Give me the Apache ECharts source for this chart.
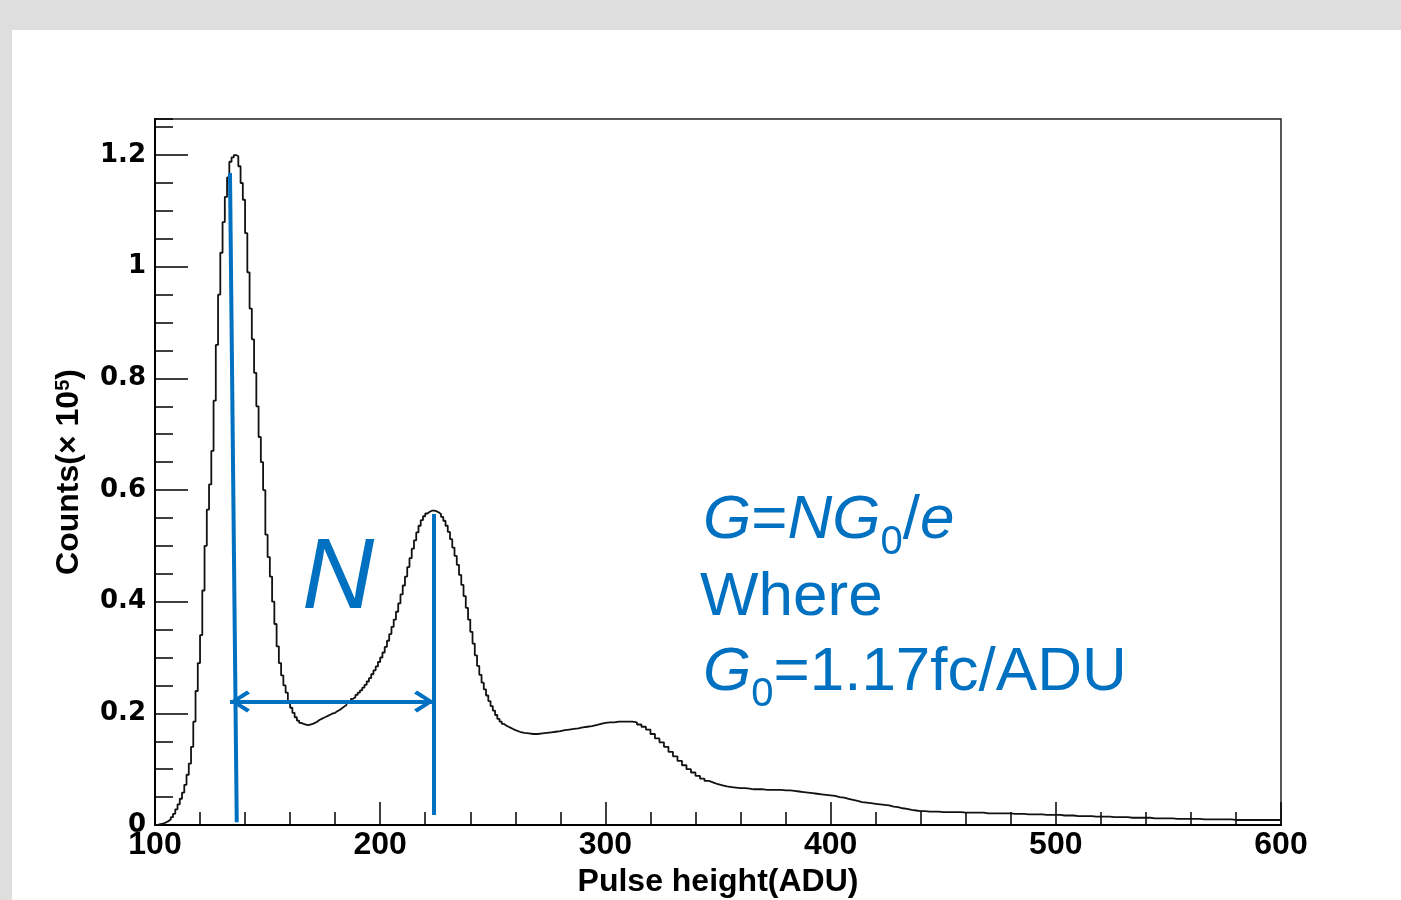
<!DOCTYPE html>
<html>
<head>
<meta charset="utf-8">
<script src="https://cdn.jsdelivr.net/npm/echarts@6.0.0/dist/echarts.min.js"></script>
<style>
  html, body { margin: 0; padding: 0; background: #dedede; }
  #chart { position: absolute; left: 12px; top: 30px; width: 1389px; height: 870px; background: #fff; }
</style>
</head>
<body>
<div id="chart"></div>
<script>
// counts in units of 1e5
// peaks region: 1 ADU bins from 100 to 260
const fineStart = 100;
const fineWidth = 1;
const countsFine = [
  0.000, 0.001, 0.002, 0.003, 0.005, 0.007, 0.010, 0.014, 0.020, 0.028,
  0.037, 0.047, 0.058, 0.072, 0.090, 0.110, 0.140, 0.185, 0.240, 0.290,
  0.340, 0.420, 0.500, 0.565, 0.610, 0.670, 0.760, 0.860, 0.950, 1.025,
  1.080, 1.125, 1.160, 1.188, 1.196, 1.200, 1.198, 1.180, 1.150, 1.120,
  1.060, 0.990, 0.925, 0.870, 0.810, 0.750, 0.695, 0.650, 0.600, 0.520,
  0.480, 0.445, 0.400, 0.360, 0.320, 0.290, 0.268, 0.250, 0.237, 0.222,
  0.210, 0.201, 0.193, 0.187, 0.183, 0.181, 0.180, 0.179, 0.180, 0.181,
  0.183, 0.185, 0.188, 0.190, 0.192, 0.194, 0.196, 0.198, 0.200, 0.201,
  0.204, 0.206, 0.209, 0.212, 0.215, 0.219, 0.222, 0.226, 0.229, 0.233,
  0.237, 0.241, 0.246, 0.251, 0.257, 0.263, 0.270, 0.277, 0.284, 0.292,
  0.300, 0.309, 0.319, 0.330, 0.342, 0.355, 0.368, 0.382, 0.397, 0.413,
  0.429, 0.445, 0.462, 0.478, 0.495, 0.510, 0.524, 0.536, 0.546, 0.553,
  0.558, 0.561, 0.563, 0.563, 0.562, 0.560, 0.557, 0.552, 0.545, 0.536,
  0.525, 0.512, 0.497, 0.482, 0.466, 0.448, 0.430, 0.410, 0.389, 0.368,
  0.346, 0.325, 0.304, 0.285, 0.269, 0.255, 0.243, 0.232, 0.222, 0.213,
  0.205, 0.197, 0.190, 0.185, 0.181, 0.178, 0.176, 0.174, 0.172, 0.170
];
// tail region: 2 ADU bins from 260 to 600
const coarseStart = 260;
const coarseWidth = 2;
const countsCoarse = [
  0.167, 0.165, 0.164, 0.163, 0.163, 0.164, 0.165, 0.166, 0.167, 0.168,
  0.170, 0.171, 0.172, 0.173, 0.175, 0.176, 0.177, 0.179, 0.181, 0.183,
  0.184, 0.184, 0.185, 0.185, 0.185, 0.185, 0.184, 0.180, 0.176, 0.171,
  0.163, 0.155, 0.148, 0.140, 0.131, 0.123, 0.115, 0.107, 0.100, 0.094,
  0.088, 0.083, 0.079, 0.076, 0.073, 0.071, 0.069, 0.068, 0.067, 0.066,
  0.066, 0.065, 0.064, 0.064, 0.064, 0.063, 0.063, 0.063, 0.063, 0.062,
  0.062, 0.061, 0.060, 0.059, 0.058, 0.057, 0.056, 0.055, 0.054, 0.053,
  0.052, 0.050, 0.049, 0.047, 0.045, 0.043, 0.041, 0.040, 0.039, 0.038,
  0.037, 0.036, 0.035, 0.033, 0.032, 0.030, 0.029, 0.027, 0.026, 0.025,
  0.025, 0.024, 0.024, 0.024, 0.023, 0.023, 0.023, 0.023, 0.023, 0.022,
  0.022, 0.022, 0.022, 0.022, 0.021, 0.021, 0.021, 0.021, 0.021, 0.021,
  0.020, 0.020, 0.020, 0.019, 0.019, 0.019, 0.019, 0.018, 0.018, 0.018,
  0.018, 0.017, 0.017, 0.017, 0.016, 0.016, 0.016, 0.016, 0.015, 0.015,
  0.015, 0.015, 0.014, 0.014, 0.014, 0.014, 0.013, 0.013, 0.013, 0.013,
  0.013, 0.012, 0.012, 0.012, 0.012, 0.012, 0.011, 0.011, 0.011, 0.011,
  0.011, 0.011, 0.010, 0.010, 0.010, 0.010, 0.010, 0.010, 0.010, 0.009,
  0.009, 0.009, 0.009, 0.009, 0.009, 0.009, 0.009, 0.009, 0.009, 0.009
];

// axis ranges / ticks
const xMin = 100, xMax = 600, xStep = 100;
const yMin = 0, yMax = 1.2646, yStep = 0.2, yMinorStep = 0.05;

// annotation positions (data units)
const peak1Line = [[133.3, 1.168], [136.3, 0.005]];
const peak2Line = [[223.9, 0.557], [223.9, 0.018]];
const gapArrow = [[133.3, 0.221], [223.9, 0.221]];

const blue = '#0070c0';
const chevron = 'path://M11,0 L22,17 L19,20 L11,7 L3,20 L0,17 Z';

// bin left edges -> step line
const histData = countsFine.map((v, i) => [fineStart + i * fineWidth, v])
  .concat(countsCoarse.map((v, i) => [coarseStart + i * coarseWidth, v]));
histData.push([xMax, countsCoarse[countsCoarse.length - 1]]);

const font = 'Liberation Sans';
const big = { fontFamily: font, fontSize: 62, fill: blue };
const richAnn = {
  i: Object.assign({}, big, { fontStyle: 'italic' }),
  r: Object.assign({}, big),
  s: { fontFamily: font, fontSize: 40, fill: blue, padding: [44, 0, 0, 0] }
};

const chart = echarts.init(document.getElementById('chart'));

chart.setOption({
  animation: false,
  backgroundColor: '#fff',
  grid: {
    left: 143, right: 120, top: 89, bottom: 75,
    show: true, borderColor: '#222', borderWidth: 1.5,
    outerBoundsMode: 'none'
  },
  xAxis: {
    type: 'value', min: xMin, max: xMax, interval: xStep,
    name: 'Pulse height(ADU)', nameLocation: 'middle', nameGap: 36,
    nameTextStyle: { fontFamily: font, fontWeight: 'bold', fontSize: 32, color: '#000' },
    axisLine: { lineStyle: { color: '#000', width: 2 } },
    axisTick: { inside: true, length: 23, lineStyle: { color: '#000', width: 1.5 } },
    minorTick: { show: true, splitNumber: 5, length: 13, lineStyle: { color: '#000', width: 1.5 } },
    axisLabel: { fontFamily: font, fontWeight: 'bold', fontSize: 32, color: '#000', margin: 4 },
    splitLine: { show: false }
  },
  yAxis: [{
    type: 'value', min: yMin, max: yMax, interval: yStep,
    name: '{a|Counts(× 10}{s|5}{a|)}', nameLocation: 'middle', nameRotate: 90, nameGap: 70,
    nameTextStyle: {
      rich: {
        a: { fontFamily: font, fontWeight: 'bold', fontSize: 32, color: '#000' },
        s: { fontFamily: font, fontWeight: 'bold', fontSize: 20, color: '#000', verticalAlign: 'top', lineHeight: 18 }
      }
    },
    axisLine: { lineStyle: { color: '#000', width: 2 } },
    axisTick: { inside: true, length: 33, lineStyle: { color: '#000', width: 1.5 } },
    axisLabel: {
      fontFamily: 'DejaVu Sans', fontWeight: 'bold', fontSize: 26, color: '#000', margin: 9,
      showMaxLabel: false
    },
    splitLine: { show: false }
  }, {
    type: 'value', min: yMin, max: yMax, interval: yMinorStep, position: 'left',
    axisLine: { show: false },
    axisTick: { inside: true, length: 18, lineStyle: { color: '#000', width: 1.5 } },
    axisLabel: { show: false },
    splitLine: { show: false }
  }],
  series: [{
    type: 'line', step: 'end', data: histData, showSymbol: false, symbol: 'none',
    lineStyle: { color: '#111', width: 1.8 },
    z: 3,
    markLine: {
      silent: true, symbol: 'none', label: { show: false },
      lineStyle: { color: blue, width: 4, type: 'solid' },
      data: [
        [{ coord: peak1Line[0] }, { coord: peak1Line[1] }],
        [{ coord: peak2Line[0] }, { coord: peak2Line[1] }]
      ]
    }
  }, {
    type: 'line', data: [], symbol: 'none',
    markLine: {
      silent: true, symbol: [chevron, chevron], symbolSize: [22, 20],
      symbolOffset: [[0, 10], [0, 10]],
      label: { show: false },
      lineStyle: { color: blue, width: 4, type: 'solid' },
      itemStyle: { color: blue },
      data: [[{ coord: gapArrow[0] }, { coord: gapArrow[1] }]]
    }
  }],
  graphic: [
    {
      type: 'text', left: 290, top: 500, silent: true,
      style: { text: 'N', fontFamily: font, fontStyle: 'italic', fontSize: 100, fill: blue }
    },
    {
      type: 'text', x: 691, y: 491, silent: true,
      style: { text: '{i|G}{r|=}{i|NG}{s|0}{r|/}{i|e}', verticalAlign: 'middle', rich: richAnn }
    },
    {
      type: 'text', x: 688, y: 568, silent: true,
      style: { text: 'Where', verticalAlign: 'middle', fontFamily: font, fontSize: 62, fill: blue }
    },
    {
      type: 'text', x: 691, y: 643, silent: true,
      style: { text: '{i|G}{s|0}{r|=1.17fc/ADU}', verticalAlign: 'middle', rich: richAnn }
    }
  ]
});
</script>
</body>
</html>
